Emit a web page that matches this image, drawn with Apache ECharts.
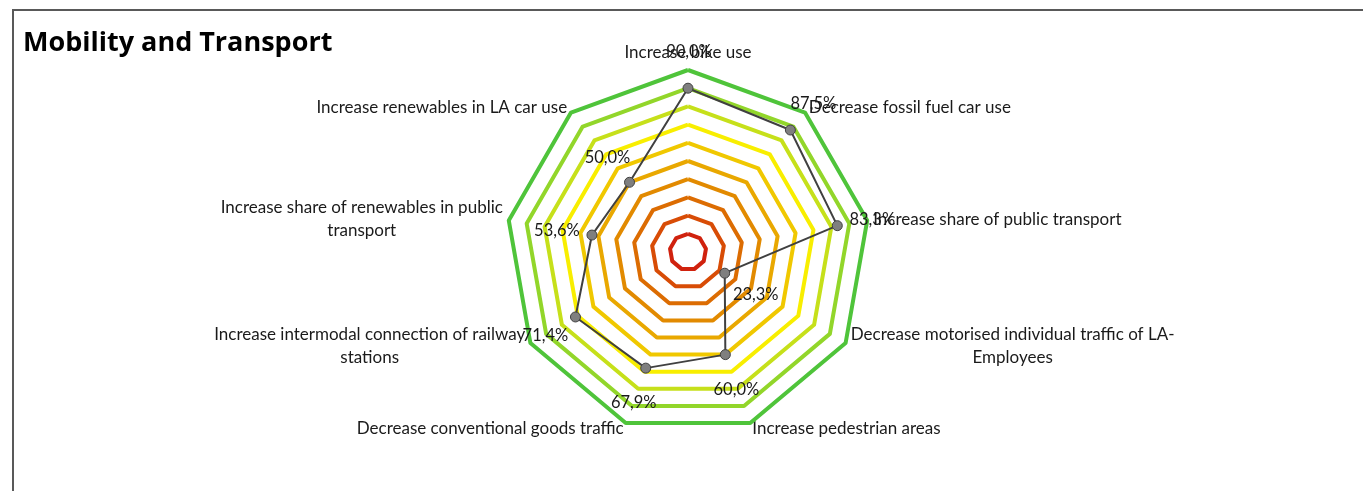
<!DOCTYPE html>
<html>
<head>
<meta charset="utf-8">
<script src="https://cdn.jsdelivr.net/npm/echarts@6/dist/echarts.min.js"></script>
<style>
  html, body { margin: 0; padding: 0; background: #fff; }
  #main { width: 1363px; height: 491px; }
</style>
</head>
<body>
<div id="main"></div>
<script>
// listed clockwise from the top, as in the original chart
var categories = [
  'Increase bike use',
  'Decrease fossil fuel car use',
  'Increase share of public transport',
  'Decrease motorised individual traffic of LA-\nEmployees',
  'Increase pedestrian areas',
  'Decrease conventional goods traffic',
  'Increase intermodal connection of railway\nstations',
  'Increase share of renewables in public\ntransport',
  'Increase renewables in LA car use'
];
var scores = [90.0, 87.5, 83.3, 23.3, 60.0, 67.9, 71.4, 53.6, 50.0];
var ringLevels = [10, 20, 30, 40, 50, 60, 70, 80, 90, 100];
var ringColors = ['#d0220e', '#d84c06', '#dc6c02', '#e28a00', '#e9a800', '#f0c800',
                  '#f8ee00', '#c6e01a', '#92d62a', '#4fc43a'];

// where each data label sits relative to its point (Excel placed them by hand)
var labelShift = [[1, -37], [23, -26], [35, -6], [31, 21], [11, 35], [-12, 35], [-30, 19], [-35, -4], [-22, -25]];

// echarts radar runs counter-clockwise, so flip the order after the first axis
var order = [0, 8, 7, 6, 5, 4, 3, 2, 1];
function reorder(arr) { return order.map(function (k) { return arr[k]; }); }

var myChart = echarts.init(document.getElementById('main'));

var rich = {};
labelShift.forEach(function (s, i) {
  var dx = s[0], dy = s[1];
  rich['d' + i] = {
    fontFamily: 'Lato', fontSize: 16.5, color: '#1a1a1a',
    padding: [dy > 0 ? 2 * dy : 0, dx < 0 ? -2 * dx : 0, dy < 0 ? -2 * dy : 0, dx > 0 ? 2 * dx : 0]
  };
});

function pct(v) {
  return v.toFixed(1).replace('.', ',') + '%';
}

var series = ringLevels.map(function (lvl, i) {
  return {
    type: 'radar',
    silent: true,
    symbol: 'none',
    z: 2,
    lineStyle: { color: ringColors[i], width: 4 },
    data: [{ value: categories.map(function () { return lvl; }) }]
  };
});

series.push({
  type: 'radar',
  z: 5,
  symbol: 'circle',
  symbolSize: 10,
  itemStyle: { color: '#7f7f7f', borderColor: '#404040', borderWidth: 1 },
  lineStyle: { color: '#404040', width: 2 },
  label: {
    show: true,
    position: 'inside',
    formatter: function (p) {
      var i = scores.indexOf(p.value);
      return '{d' + i + '|' + pct(scores[i]) + '}';
    },
    rich: rich
  },
  data: [{ value: reorder(scores) }]
});

var option = {
  animation: false,
  title: {
    text: 'Mobility and Transport',
    left: 18, top: 25,
    textStyle: { fontFamily: 'Open Sans', fontSize: 27, fontWeight: 'bold', color: '#000' }
  },
  graphic: [{
    type: 'rect', silent: true,
    shape: { x: 13, y: 10, width: 1400, height: 520 },
    style: { fill: null, stroke: '#595959', lineWidth: 2 }
  }],
  radar: {
    center: [688, 252],
    radius: 182,
    startAngle: 90,
    splitNumber: 10,
    indicator: reorder(categories).map(function (c) { return { name: c, min: 0, max: 100 }; }),
    axisLine: { show: false },
    splitLine: { show: false },
    splitArea: { show: false },
    axisTick: { show: false },
    axisLabel: { show: false },
    nameGap: 6,
    axisName: {
      color: '#1a1a1a',
      fontFamily: 'Lato',
      fontSize: 17,
      formatter: function (name) {
        return name.split('\n').map(function (l) { return '{c|' + l + '}'; }).join('\n');
      },
      rich: { c: { align: 'center', fontFamily: 'Lato', fontSize: 17, color: '#1a1a1a', lineHeight: 23 } }
    }
  },
  series: series
};
myChart.setOption(option);
</script>
</body>
</html>
